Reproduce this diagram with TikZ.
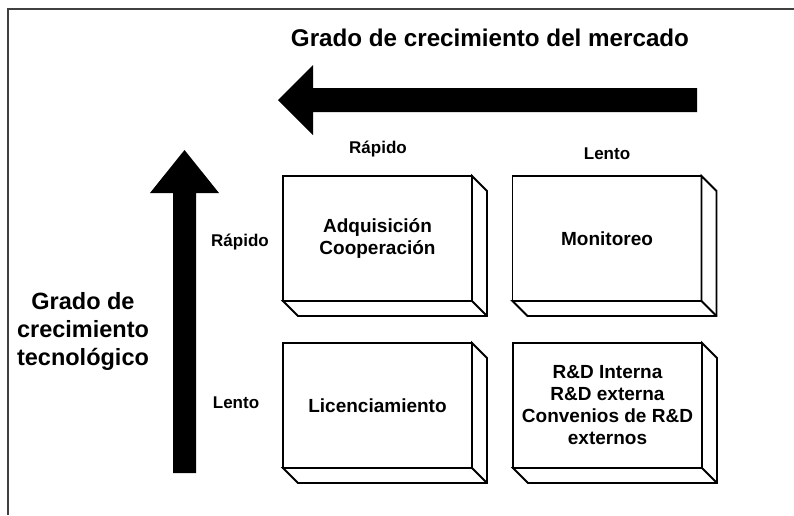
\documentclass[tikz,border=0pt]{standalone}
\usepackage{fontspec}
\setmainfont{Liberation Sans}
\begin{document}
\begin{tikzpicture}[x=1pt,y=-1pt,
  frame/.style={draw=black!75, line width=1.2pt},
  face/.style={draw, fill=white, line width=1.8pt, line join=miter, minimum width=189pt, minimum height=125pt, outer sep=0pt, align=center, font=\fontsize{19}{22}\selectfont\bfseries},
  side/.style={draw, fill=white, line width=1.8pt, line join=miter},
  bigarrow/.style={fill=black},
  title/.style={font=\fontsize{24.2}{28}\selectfont\bfseries, align=center},
  ltitle/.style={font=\fontsize{23.5}{28}\selectfont\bfseries, align=center},
  lbl/.style={font=\fontsize{17}{20}\selectfont\bfseries}]
\useasboundingbox (0,0) rectangle (794,515);
% frame
\draw[frame] (794,9) -- (8,9) -- (8,515);
% titles
\node[title] (tm) at (490,38) {Grado de crecimiento del mercado};
\node[ltitle] (tt) at (83,331) {Grado de\\crecimiento\\tecnológico};
% arrows
\fill[bigarrow] (697,88) -- (313,88) -- (313,65) -- (278,100) -- (313,135) -- (313,112) -- (697,112) -- cycle;
\fill[bigarrow] (173,473) -- (173,193) -- (150,193) -- (184.5,150) -- (219,193) -- (196,193) -- (196,473) -- cycle;
% labels
\node[lbl] (cr) at (378,149) {Rápido};
\node[lbl] (cl) at (607,154) {Lento};
\node[lbl] (rr) at (240,242) {Rápido};
\node[lbl] (rl) at (236,403) {Lento};
% boxes
\foreach \n/\cx/\cy/\t in {b1/377.5/238.5/{Adquisición\\Cooperación},
                          b2/607/238.5/{Monitoreo},
                          b3/377.5/405.5/{Licenciamiento},
                          b4/607.5/405.5/{R\&D Interna\\R\&D externa\\Convenios de R\&D\\externos}}{
  \node[face] (\n) at (\cx,\cy) {\t};
  \draw[side] (\n.north east) -- ++(15,15) -- ([shift={(15,15)}]\n.south east) -- ([shift={(15,15)}]\n.south west) -- (\n.south west) -- (\n.south east) -- cycle;
  \draw[side] (\n.south east) -- ++(15,15);
}
\end{tikzpicture}
\end{document}
